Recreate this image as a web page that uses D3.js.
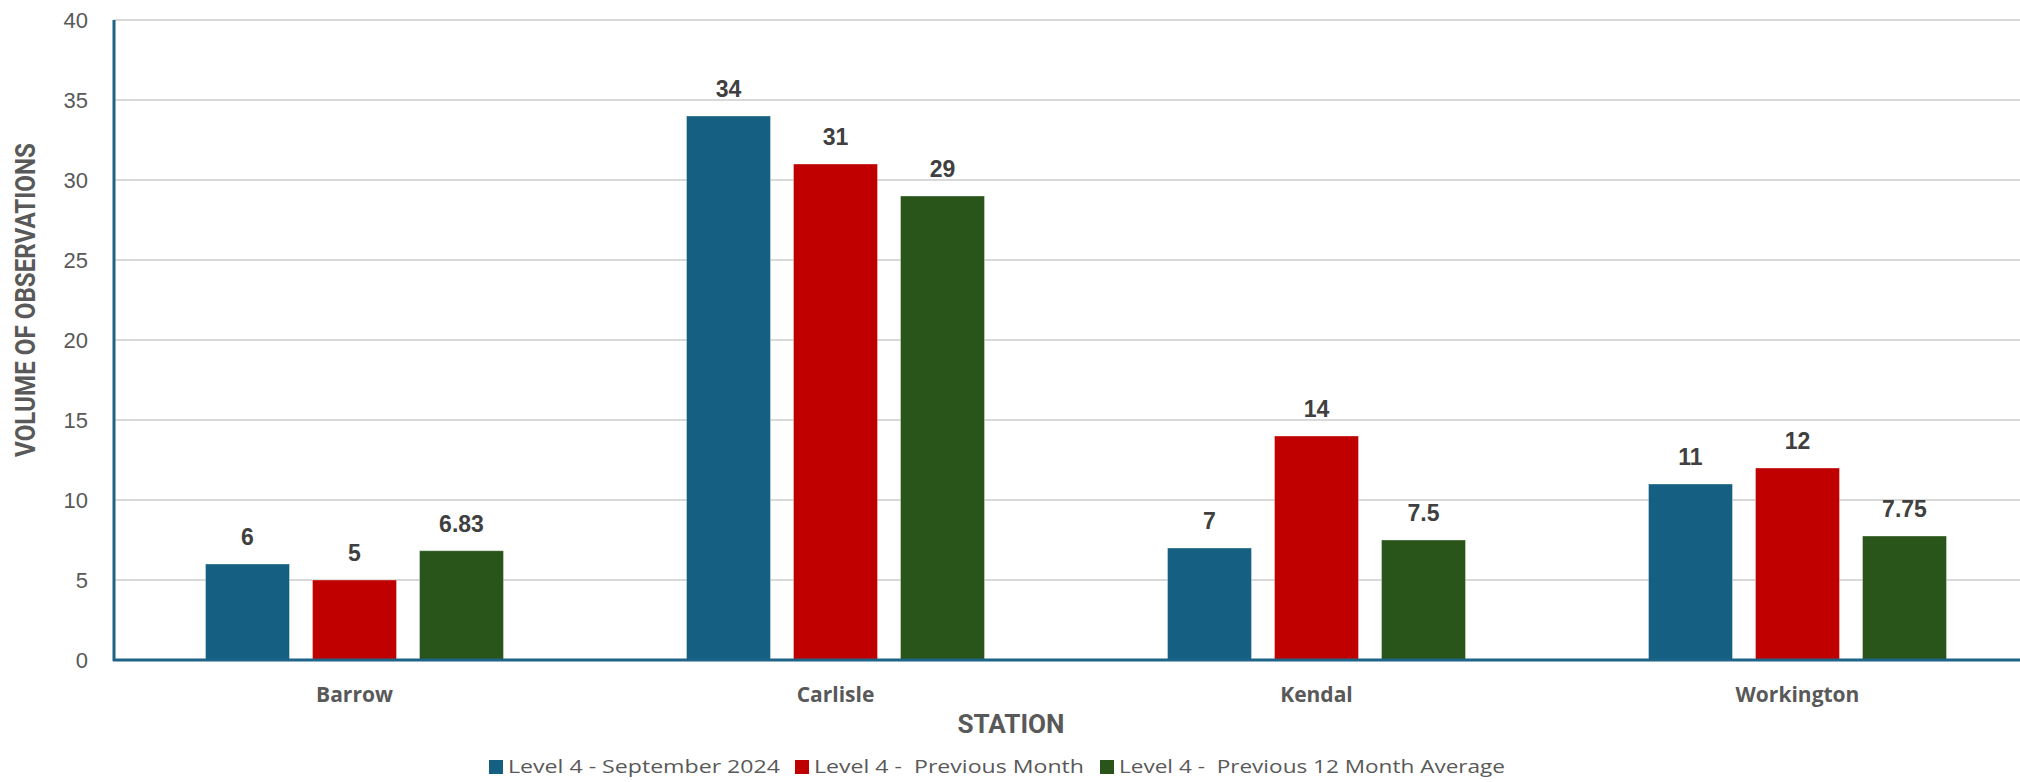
<!DOCTYPE html>
<html>
<head>
<meta charset="utf-8">
<script src="https://cdn.jsdelivr.net/npm/d3@7"></script>
<style>
  html, body { margin: 0; padding: 0; background: #fff; }
  svg { display: block; }
</style>
</head>
<body>
<div id="chart"></div>
<script>
// ---- Data ----
const stations = ['Barrow', 'Carlisle', 'Kendal', 'Workington'];
const seriesNames = ['Level 4 - September 2024', 'Level 4 -  Previous Month', 'Level 4 -  Previous 12 Month Average'];
const seriesColors = ['#156082', '#C00000', '#29541A'];
const september2024 = [6, 34, 7, 11];
const previousMonth = [5, 31, 14, 12];
const previous12Avg = [6.83, 29, 7.5, 7.75];
const yTicks = [0, 5, 10, 15, 20, 25, 30, 35, 40];

const seriesValues = [september2024, previousMonth, previous12Avg];

const W = 2020, H = 782;
const plot = { left: 114, right: 2038, top: 20, bottom: 660 };

const svg = d3.select('#chart').append('svg')
  .attr('width', W).attr('height', H)
  .attr('viewBox', `0 0 ${W} ${H}`);

// ---- Scales ----
const x0 = d3.scaleBand().domain(stations).range([plot.left, plot.right]).padding(0);
const groupW = 298;
const x1 = d3.scaleBand().domain(d3.range(seriesNames.length))
  .range([-groupW / 2, groupW / 2]).paddingInner(0.215).paddingOuter(0);
const y = d3.scaleLinear().domain([0, 40]).range([plot.bottom, plot.top]);

// ---- Grid ----
svg.append('g')
  .selectAll('line').data(yTicks.filter(d => d > 0)).join('line')
  .attr('x1', plot.left).attr('x2', W)
  .attr('y1', d => y(d)).attr('y2', d => y(d))
  .attr('stroke', '#d9d9d9').attr('stroke-width', 2);

// ---- Y tick labels ----
const yAxis = d3.axisLeft(y).tickValues(yTicks).tickSize(0).tickPadding(0);
svg.append('g')
  .attr('transform', `translate(88,0)`)
  .call(yAxis)
  .call(g => g.select('.domain').remove())
  .call(g => g.selectAll('text')
    .attr('font-family', '"Liberation Sans", Arial, sans-serif')
    .attr('font-size', 22)
    .attr('fill', '#595959')
    .attr('dy', '0.36em'));

// ---- Bars ----
const flat = [];
stations.forEach((s, i) => seriesValues.forEach((vals, k) => flat.push({ s, k, v: vals[i] })));

svg.append('g')
  .selectAll('rect').data(flat).join('rect')
  .attr('x', d => x0(d.s) + x0.bandwidth() / 2 + x1(d.k))
  .attr('y', d => y(d.v))
  .attr('width', x1.bandwidth())
  .attr('height', d => y(0) - y(d.v))
  .attr('fill', d => seriesColors[d.k])
  .attr('stroke', 'rgba(255,255,255,0.35)')
  .attr('stroke-width', 1);

// ---- Data labels ----
svg.append('g')
  .selectAll('text').data(flat).join('text')
  .attr('x', d => x0(d.s) + x0.bandwidth() / 2 + x1(d.k) + x1.bandwidth() / 2)
  .attr('y', d => y(d.v) - 19)
  .attr('text-anchor', 'middle')
  .attr('font-family', '"Liberation Sans", Arial, sans-serif')
  .attr('font-weight', 'bold')
  .attr('font-size', 23)
  .attr('fill', '#404040')
  .text(d => d.v);

// ---- Axis lines ----
svg.append('line')
  .attr('x1', plot.left).attr('x2', plot.left)
  .attr('y1', plot.top).attr('y2', plot.bottom + 1)
  .attr('stroke', '#1d6488').attr('stroke-width', 3);
svg.append('line')
  .attr('x1', plot.left - 1).attr('x2', W)
  .attr('y1', plot.bottom).attr('y2', plot.bottom)
  .attr('stroke', '#1d6488').attr('stroke-width', 3);

// ---- Category labels ----
svg.append('g')
  .selectAll('text').data(stations).join('text')
  .attr('x', d => x0(d) + x0.bandwidth() / 2)
  .attr('y', 702)
  .attr('text-anchor', 'middle')
  .attr('font-family', '"Open Sans", Lato, sans-serif')
  .attr('font-weight', 'bold')
  .attr('font-size', 21)
  .attr('fill', '#595959')
  .text(d => d);

// ---- Axis titles ----
svg.append('text')
  .attr('x', 1011).attr('y', 733)
  .attr('text-anchor', 'middle')
  .attr('font-family', 'Roboto, sans-serif')
  .attr('font-weight', 'bold')
  .attr('font-size', 25)
  .attr('fill', '#595959')
  .attr('textLength', 107).attr('lengthAdjust', 'spacingAndGlyphs')
  .text('STATION');

svg.append('text')
  .attr('transform', 'translate(35,300) rotate(-90)')
  .attr('text-anchor', 'middle')
  .attr('font-family', 'Roboto, sans-serif')
  .attr('font-weight', 'bold')
  .attr('font-size', 27)
  .attr('fill', '#595959')
  .attr('textLength', 314).attr('lengthAdjust', 'spacingAndGlyphs')
  .text('VOLUME OF OBSERVATIONS');

// ---- Legend ----
const legendX = [489, 795, 1100];
const legendTextW = [272, 270, 386];
const legend = svg.append('g')
  .selectAll('g').data(seriesNames).join('g')
  .attr('transform', (d, i) => `translate(${legendX[i]},760)`);
legend.append('rect')
  .attr('width', 14).attr('height', 14)
  .attr('fill', (d, i) => seriesColors[i]);
legend.append('text')
  .attr('x', 19).attr('y', 13)
  .attr('font-family', '"Open Sans", sans-serif')
  .attr('font-size', 19)
  .attr('fill', '#595959')
  .attr('textLength', (d, i) => legendTextW[i]).attr('lengthAdjust', 'spacingAndGlyphs')
  .style('white-space', 'pre')
  .text(d => d);
</script>
</body>
</html>
